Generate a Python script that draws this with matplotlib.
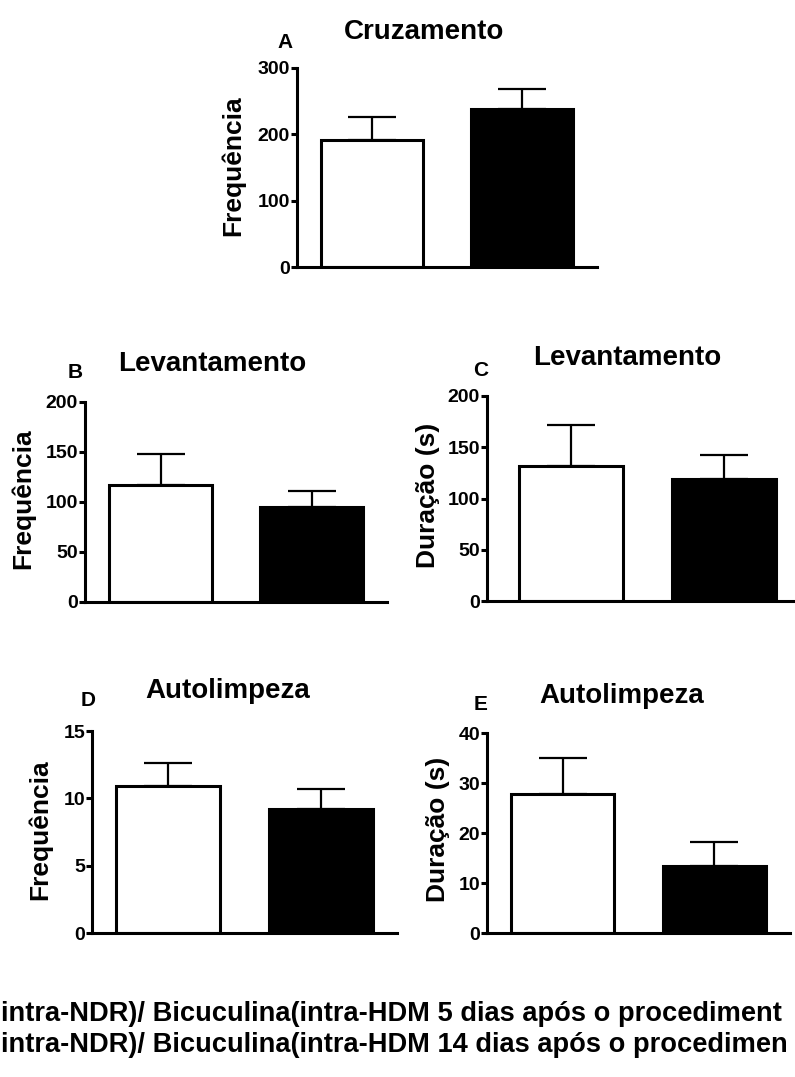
import matplotlib
matplotlib.use("Agg")
from matplotlib import pyplot as plt

plt.rcParams['font.family'] = ['Liberation Sans', 'DejaVu Sans']
plt.rcParams['font.weight'] = 'bold'

# data (mean, upper error)
groups = ['5 dias', '14 dias']
cruz_freq = [192, 238]
cruz_freq_err = [34, 30]
lev_freq = [117, 95]
lev_freq_err = [31, 16]
lev_dur = [132, 119]
lev_dur_err = [40, 23]
auto_freq = [10.9, 9.2]
auto_freq_err = [1.7, 1.5]
auto_dur = [27.8, 13.4]
auto_dur_err = [7.2, 4.8]

bar_colors = ['white', 'black']
# legend text as far as it is visible in the original (cut at the right edge)
legend_lines = ['intra-NDR)/ Bicuculina(intra-HDM 5 dias após o procediment',
                'intra-NDR)/ Bicuculina(intra-HDM 14 dias após o procedimen']

W, H = 795, 1077
fig = plt.figure(figsize=(W / 100, H / 100), dpi=100)

TITLE_FS = 20
LABEL_FS = 19
LETTER_FS = 15


def px_axes(left, right, top, bottom):
    return fig.add_axes([left / W, 1 - bottom / H, (right - left) / W, (bottom - top) / H])


def panel(ax, vals, errs, ymax, step, xlim=(-0.5, 1.5)):
    x = list(range(len(groups)))
    ax.errorbar(x, vals, yerr=[[0] * len(errs), errs], fmt='none', ecolor='black',
                elinewidth=1.6, capsize=17, capthick=1.6, zorder=1)
    ax.bar(x, vals, width=0.68, color=bar_colors, edgecolor='black', linewidth=2.2, zorder=2)
    ax.set_xlim(*xlim)
    ax.set_ylim(0, ymax)
    ax.set_yticks(range(0, int(ymax) + 1, step))
    ax.set_xticks([])
    for s in ['top', 'right']:
        ax.spines[s].set_visible(False)
    for s in ['left', 'bottom']:
        ax.spines[s].set_linewidth(2.2)
    ax.tick_params(axis='y', length=4, width=2.2, pad=1, labelsize=14)
    for lab in ax.get_yticklabels():
        lab.set_fontweight('bold')


def ftext(x, y, s, **kw):
    fig.text(x / W, 1 - y / H, s, fontweight='bold', **kw)


# A
axA = px_axes(297, 597, 68, 267)
panel(axA, cruz_freq, cruz_freq_err, 300, 100)
ftext(424, 32, 'Cruzamento', fontsize=TITLE_FS, ha='center', va='center')
ftext(285, 43, 'A', fontsize=LETTER_FS, ha='center', va='center')
ftext(233, 166, 'Frequência', fontsize=LABEL_FS, rotation=90, ha='center', va='center')

# B
axB = px_axes(85, 387, 402, 602)
panel(axB, lev_freq, lev_freq_err, 200, 50)
ftext(212, 364, 'Levantamento', fontsize=TITLE_FS, ha='center', va='center')
ftext(75, 372, 'B', fontsize=LETTER_FS, ha='center', va='center')
ftext(23, 499, 'Frequência', fontsize=LABEL_FS, rotation=90, ha='center', va='center')

# C
axC = px_axes(487, 793, 396, 601)
panel(axC, lev_dur, lev_dur_err, 200, 50, xlim=(-0.55, 1.45))
ftext(627, 358, 'Levantamento', fontsize=TITLE_FS, ha='center', va='center')
ftext(481, 370, 'C', fontsize=LETTER_FS, ha='center', va='center')
ftext(428, 495, 'Duração (s)', fontsize=LABEL_FS, rotation=90, ha='center', va='center')

# D
axD = px_axes(92, 397, 731, 933)
panel(axD, auto_freq, auto_freq_err, 15, 5)
ftext(228, 691, 'Autolimpeza', fontsize=TITLE_FS, ha='center', va='center')
ftext(88, 700, 'D', fontsize=LETTER_FS, ha='center', va='center')
ftext(40, 830, 'Frequência', fontsize=LABEL_FS, rotation=90, ha='center', va='center')

# E
axE = px_axes(487, 790, 733, 933)
panel(axE, auto_dur, auto_dur_err, 40, 10)
ftext(622, 696, 'Autolimpeza', fontsize=TITLE_FS, ha='center', va='center')
ftext(481, 704, 'E', fontsize=LETTER_FS, ha='center', va='center')
ftext(438, 829, 'Duração (s)', fontsize=LABEL_FS, rotation=90, ha='center', va='center')

# legend text
ftext(1, 1021, legend_lines[0], fontsize=19.6, ha='left', va='baseline')
ftext(1, 1052, legend_lines[1], fontsize=19.6, ha='left', va='baseline')

plt.savefig('out.png', dpi=100)
